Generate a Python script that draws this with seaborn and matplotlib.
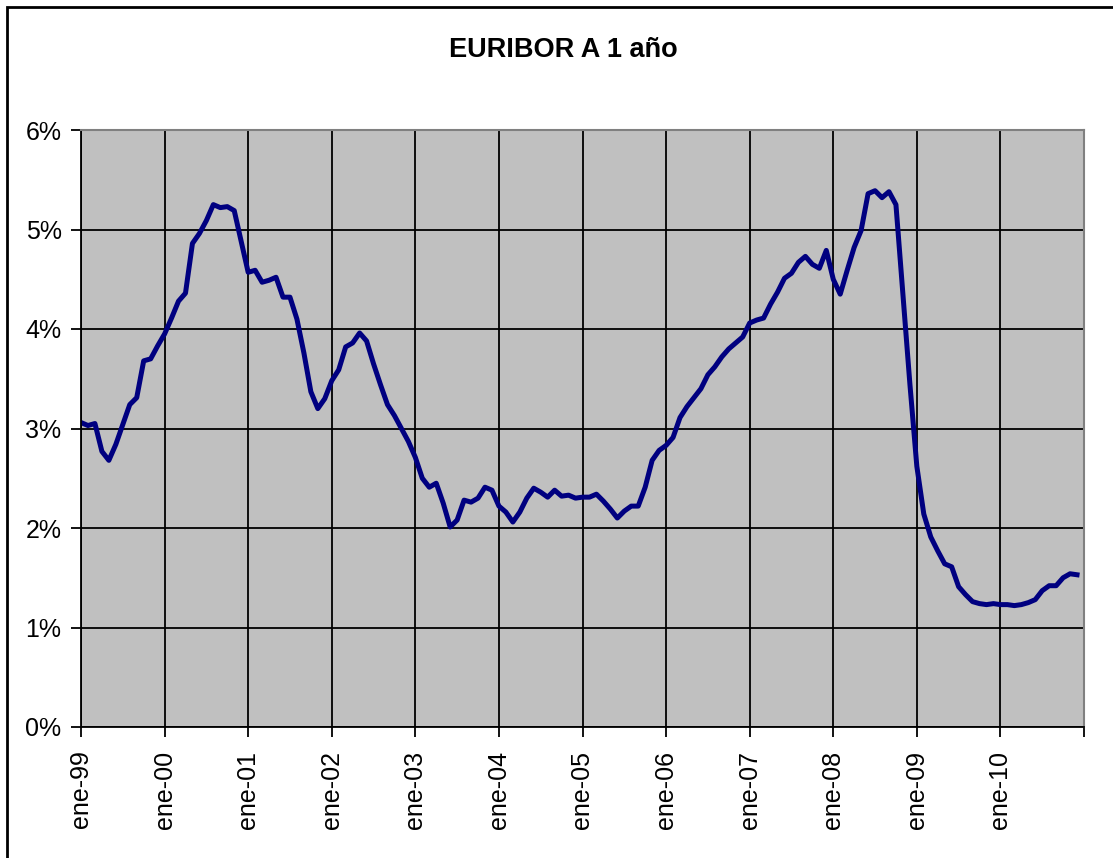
import pandas as pd
import seaborn as sns
import matplotlib.pyplot as plt
from matplotlib.patches import Rectangle

# euribor a 1 año, media mensual (%), ene-99 a dic-10
anios = ["99", "00", "01", "02", "03", "04", "05", "06", "07", "08", "09", "10"]
euribor = [
    3.06, 3.03, 3.05, 2.77, 2.68, 2.84, 3.04, 3.24, 3.31, 3.68, 3.70, 3.83,  # 1999
    3.95, 4.11, 4.28, 4.36, 4.86, 4.96, 5.09, 5.25, 5.22, 5.23, 5.19, 4.88,  # 2000
    4.57, 4.59, 4.47, 4.49, 4.52, 4.32, 4.32, 4.10, 3.76, 3.37, 3.20, 3.30,  # 2001
    3.48, 3.59, 3.82, 3.86, 3.96, 3.88, 3.65, 3.44, 3.24, 3.13, 3.00, 2.87,  # 2002
    2.71, 2.50, 2.41, 2.45, 2.25, 2.01, 2.08, 2.28, 2.26, 2.30, 2.41, 2.38,  # 2003
    2.22, 2.16, 2.06, 2.16, 2.30, 2.40, 2.36, 2.31, 2.38, 2.32, 2.33, 2.30,  # 2004
    2.31, 2.31, 2.34, 2.27, 2.19, 2.10, 2.17, 2.22, 2.22, 2.41, 2.68, 2.78,  # 2005
    2.83, 2.91, 3.11, 3.22, 3.31, 3.40, 3.54, 3.62, 3.72, 3.80, 3.86, 3.92,  # 2006
    4.06, 4.09, 4.11, 4.25, 4.37, 4.51, 4.56, 4.67, 4.73, 4.65, 4.61, 4.79,  # 2007
    4.50, 4.35, 4.59, 4.82, 4.99, 5.36, 5.39, 5.32, 5.38, 5.25, 4.35, 3.45,  # 2008
    2.62, 2.14, 1.91, 1.77, 1.64, 1.61, 1.41, 1.33, 1.26, 1.24, 1.23, 1.24,  # 2009
    1.23, 1.23, 1.22, 1.23, 1.25, 1.28, 1.37, 1.42, 1.42, 1.50, 1.54, 1.53,  # 2010
]

df = pd.DataFrame({"mes": range(len(euribor)), "euribor": euribor})

fig = plt.figure(figsize=(11.13, 8.58), dpi=100)
plt.rcParams["font.family"] = ["Liberation Sans", "DejaVu Sans"]

# marco del grafico (como en excel)
fig.patches.append(Rectangle((7 / 1113, -0.1), 1.2, 1 - 7 / 858 + 0.1, transform=fig.transFigure,
                             fill=False, edgecolor="black", linewidth=2))

ax = fig.add_axes([81 / 1113, 1 - 727 / 858, (1084 - 81) / 1113, (727 - 130) / 858])
ax.set_facecolor("#C0C0C0")

sns.lineplot(data=df, x="mes", y="euribor", color="#000080", linewidth=3.6, ax=ax)

ax.set_xlim(0, 144)
ax.set_ylim(0, 6)
ax.set_xticks(range(0, 145, 12))
ax.set_xticklabels(["ene-" + a for a in anios] + [""], rotation=90, fontsize=18)
ax.set_yticks(range(0, 7))
ax.set_yticklabels([f"{v}%" for v in range(0, 7)], fontsize=18)
ax.tick_params(direction="out", length=7, width=1.3, color="black")
ax.tick_params(axis="x", pad=10)
ax.tick_params(axis="y", pad=7)

ax.grid(True, color="black", linewidth=1.3)
ax.set_axisbelow(True)
for lado in ["top", "right"]:
    ax.spines[lado].set_color("#808080")
    ax.spines[lado].set_linewidth(1.5)
for lado in ["left", "bottom"]:
    ax.spines[lado].set_color("black")
    ax.spines[lado].set_linewidth(1.3)

ax.set_xlabel("")
ax.set_ylabel("")

fig.text(0.506, 1 - 50 / 858, "EURIBOR A 1 año", ha="center", va="center",
         fontsize=19.5, fontweight="bold")

plt.savefig("out.png", dpi=100)
